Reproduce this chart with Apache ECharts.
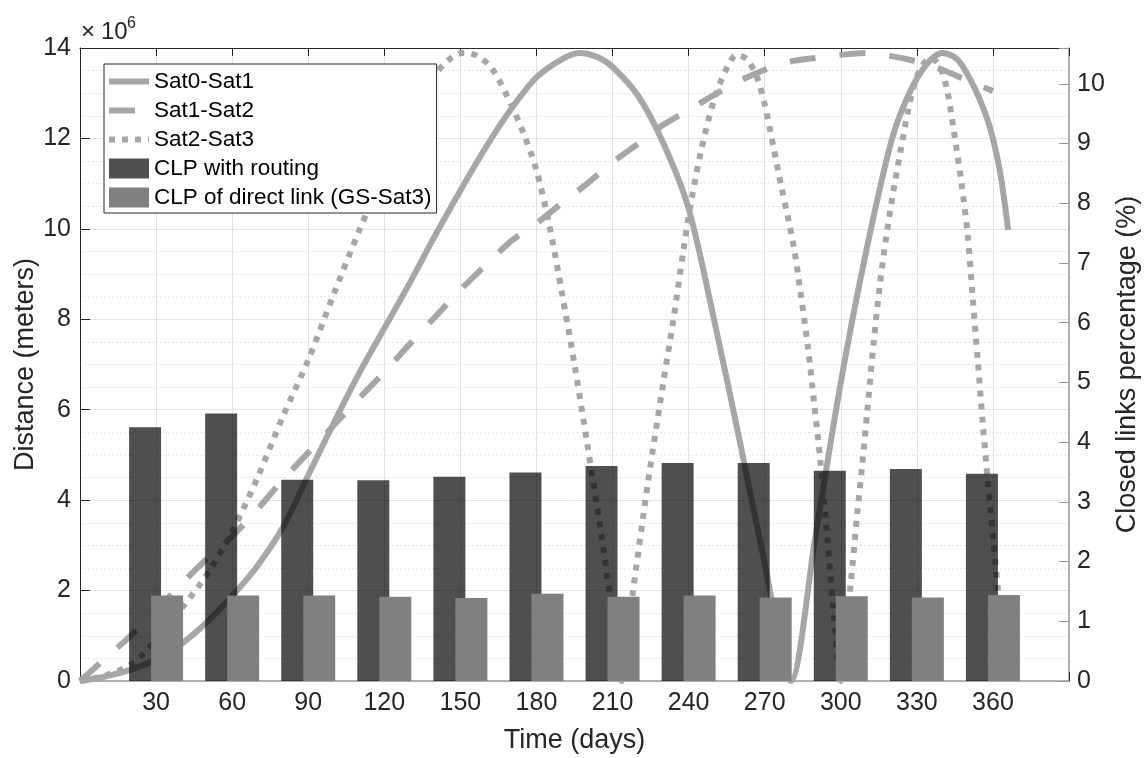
<!DOCTYPE html>
<html>
<head>
<meta charset="utf-8">
<script src="https://cdn.jsdelivr.net/npm/echarts@6/dist/echarts.min.js"></script>
<style>
  html, body { margin: 0; padding: 0; background: #fff; }
  #main { width: 1147px; height: 758px; }
</style>
</head>
<body>
<div id="main"></div>
<script>
// distance curves: [day, distance in 1e6 m]
var sat01 = [[0,0],[10,0.1],[20,0.25],[30,0.48],[40,0.82],[50,1.3],[60,1.88],[70,2.55],[80,3.4],[90,4.55],
  [100,5.7],[110,6.8],[120,7.8],[130,8.8],[140,9.85],[150,10.85],[160,11.8],[170,12.65],[180,13.35],[190,13.75],
  [197,13.89],[204,13.8],[210,13.58],[220,12.95],[230,11.9],[240,10.45],[250,8.0],[260,5.35],[270,2.6],[280.3,0],
  [290,3.2],[300,6.6],[310,9.5],[320,11.95],[327,13.0],[334,13.65],[340,13.89],[346,13.75],[352,13.2],[357,12.55],
  [360,12.0],[363,11.2],[366,9.98]];
var sat12 = [[0,0],[10,0.5],[20,1.0],[30,1.55],[40,2.15],[50,2.7],[60,3.2],[70,3.8],[80,4.45],[90,5.05],
  [100,5.65],[110,6.25],[120,6.83],[130,7.45],[140,8.05],[150,8.65],[160,9.2],[170,9.73],[180,10.12],[190,10.57],
  [200,11.0],[210,11.47],[220,11.88],[230,12.3],[240,12.63],[250,12.96],[260,13.27],[270,13.52],[280,13.7],
  [290,13.78],[300,13.85],[310,13.89],[320,13.82],[330,13.7],[340,13.52],[350,13.28],[360,13.05]];
var sat23 = [[0,0],[10,0.12],[20,0.36],[25,0.6],[30,0.9],[40,1.6],[50,2.35],[60,3.3],[70,4.5],[80,5.85],
  [90,7.1],[100,8.55],[110,9.95],[120,11.25],[130,12.45],[140,13.4],[145,13.72],[151,13.89],[157,13.82],[163,13.5],
  [170,12.75],[175,12.1],[180,11.3],[185,10.1],[190,8.6],[195,7.0],[200,5.25],[205,3.45],[210,1.5],[213.5,0],
  [218,1.95],[224,4.4],[230,6.6],[234,8.0],[238,9.54],[241,10.6],[245,11.75],[250,12.85],[255,13.55],[259,13.85],
  [263,13.75],[267,13.35],[270,12.75],[273.5,11.8],[276.5,10.95],[279,10.3],[281.5,9.6],[284,8.65],[287,7.4],
  [289.5,6.15],[292,4.85],[294.5,3.3],[297,1.65],[300,0],[302,1.1],[304,2.2],[306.5,3.7],[308.5,4.8],[310.5,6.0],
  [313,7.5],[315.5,8.8],[318,9.85],[320.5,10.75],[323.5,11.7],[326.5,12.6],[329,13.2],[332,13.6],[335.5,13.78],
  [339,13.6],[342,13.05],[344.5,12.2],[347.5,11.05],[350,9.9],[352,8.5],[354,7.1],[356,5.7],[358,4.4],[360,3.2],
  [362,2.0],[364.5,0.2]];

// closed links percentage (%)
var barDays = [30, 60, 90, 120, 150, 180, 210, 240, 270, 300, 330, 360];
var clpRouting = [4.25, 4.48, 3.37, 3.36, 3.42, 3.49, 3.60, 3.65, 3.65, 3.52, 3.55, 3.47];
var clpDirect = [1.43, 1.43, 1.43, 1.41, 1.39, 1.46, 1.41, 1.43, 1.40, 1.42, 1.40, 1.44];

var font = 'Liberation Sans, Arial, Helvetica, sans-serif';
var lineGray = '#a6a6a6';
var dark = '#262626';
var noSymbol = { color: 'rgba(0,0,0,0)', borderColor: 'rgba(0,0,0,0)', borderWidth: 0 };

function pairs(xs, ys) {
  return xs.map(function (x, i) { return [x, ys[i]]; });
}

var chart = echarts.init(document.getElementById('main'));
var option = {
  animation: false,
  textStyle: { fontFamily: font },
  grid: { left: 80, right: 78, top: 48, bottom: 77, outerBoundsMode: 'none', containLabel: false },
  graphic: [
    { type: 'text', left: 81, top: 20, style: { text: '×', fontSize: 24, fontFamily: font, fill: dark } },
    { type: 'text', left: 101, top: 20, style: { text: '10', fontSize: 24, fontFamily: font, fill: dark } },
    { type: 'text', left: 127, top: 16, style: { text: '6', fontSize: 16, fontFamily: font, fill: dark } }
  ],
  legend: {
    orient: 'vertical',
    left: 104,
    top: 64,
    padding: [6, 5, 4, 2],
    itemWidth: 40,
    itemHeight: 20,
    itemGap: 6,
    backgroundColor: '#fff',
    borderColor: dark,
    borderWidth: 1,
    borderRadius: 0,
    selectedMode: false,
    lineStyle: { width: 6, cap: 'butt' },
    textStyle: { fontSize: 22.5, color: '#000', fontFamily: font },
    data: [
      { name: 'Sat0-Sat1', itemStyle: noSymbol },
      { name: 'Sat1-Sat2', itemStyle: noSymbol },
      { name: 'Sat2-Sat3', itemStyle: noSymbol },
      { name: 'CLP with routing', icon: 'rect' },
      { name: 'CLP of direct link (GS-Sat3)', icon: 'rect' }
    ]
  },
  xAxis: [
    {
      type: 'value', min: 0, max: 390, interval: 30, position: 'bottom',
      name: 'Time (days)', nameLocation: 'middle', nameGap: 46, nameMoveOverlap: false,
      nameTextStyle: { fontSize: 27, color: dark },
      axisLine: { onZero: false, lineStyle: { color: '#9a9a9a', width: 1.5 } },
      axisTick: { inside: true, length: 9, lineStyle: { color: dark } },
      axisLabel: {
        fontSize: 25, color: dark, margin: 10,
        formatter: function (v) { return (v === 0 || v === 390) ? '' : v; }
      },
      splitLine: { show: true, lineStyle: { color: '#e3e3e3' } }
    },
    {
      type: 'value', min: 0, max: 390, interval: 30, position: 'top',
      axisLine: { show: true, onZero: false, lineStyle: { color: dark } },
      axisTick: { inside: true, length: 8, lineStyle: { color: dark } },
      axisLabel: { show: false },
      splitLine: { show: false }
    }
  ],
  yAxis: [
    {
      type: 'value', min: 0, max: 14, interval: 2, position: 'left',
      name: 'Distance (meters)', nameLocation: 'middle', nameGap: 41, nameRotate: 90, nameMoveOverlap: false,
      nameTextStyle: { fontSize: 27, color: dark },
      axisLine: { show: true, onZero: false, lineStyle: { color: dark } },
      axisTick: { show: true, inside: true, length: 10, lineStyle: { color: dark } },
      axisLabel: { fontSize: 25, color: dark, margin: 9 },
      splitLine: { show: true, lineStyle: { color: '#e3e3e3' } },
      minorTick: { show: false, splitNumber: 4 },
      minorSplitLine: { show: true, lineStyle: { color: '#e6e6e6', type: [2, 2] } }
    },
    {
      type: 'value', min: 0, max: 10.6, interval: 1, position: 'right',
      name: 'Closed links percentage (%)', nameLocation: 'middle', nameGap: 45, nameRotate: 90, nameMoveOverlap: false,
      nameTextStyle: { fontSize: 27, color: dark },
      axisLine: { show: true, onZero: false, lineStyle: { color: '#9a9a9a', width: 1.5 } },
      axisTick: { show: true, inside: true, length: 10, lineStyle: { color: '#9a9a9a' } },
      axisLabel: {
        fontSize: 25, color: dark, margin: 8,
        formatter: function (v) { return v > 10.5 ? '' : v; }
      },
      splitLine: { show: false }
    }
  ],
  series: [
    {
      name: 'Sat0-Sat1', type: 'line', xAxisIndex: 0, yAxisIndex: 0, data: sat01,
      symbol: 'none', smooth: 0.3, z: 2,
      itemStyle: { color: lineGray },
      lineStyle: { color: lineGray, width: 6 }
    },
    {
      name: 'Sat1-Sat2', type: 'line', xAxisIndex: 0, yAxisIndex: 0, data: sat12,
      symbol: 'none', smooth: 0.3, z: 2,
      itemStyle: { color: lineGray },
      lineStyle: { color: lineGray, width: 6, type: [26, 24], cap: 'butt' }
    },
    {
      name: 'Sat2-Sat3', type: 'line', xAxisIndex: 0, yAxisIndex: 0, data: sat23,
      symbol: 'none', smooth: 0.3, z: 2,
      itemStyle: { color: lineGray },
      lineStyle: { color: lineGray, width: 6, type: [6, 7], cap: 'butt' }
    },
    {
      name: 'CLP with routing', type: 'bar', xAxisIndex: 0, yAxisIndex: 1,
      data: pairs(barDays, clpRouting),
      barWidth: 32, barGap: '-31.25%', z: 3,
      itemStyle: { color: 'rgba(0,0,0,0.69)' }
    },
    {
      name: 'CLP of direct link (GS-Sat3)', type: 'bar', xAxisIndex: 0, yAxisIndex: 1,
      data: pairs(barDays, clpDirect),
      barWidth: 32, barGap: '-31.25%', z: 3,
      itemStyle: { color: '#808080' }
    }
  ]
};
chart.setOption(option);
</script>
</body>
</html>
